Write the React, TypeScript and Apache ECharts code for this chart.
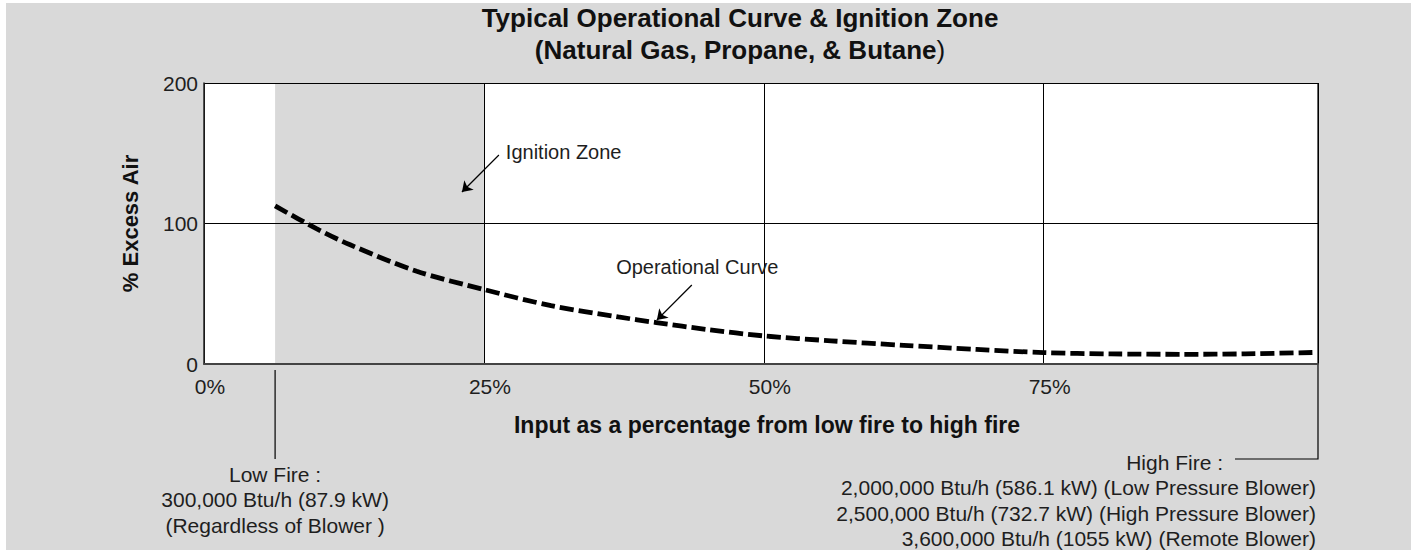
import React, { useEffect, useRef } from "react";
import * as echarts from "echarts";

// ---- data ----
const TITLE_LINE_1 = "Typical Operational Curve & Ignition Zone";
const TITLE_LINE_2_BOLD = "(Natural Gas, Propane, & Butane";
const TITLE_LINE_2_TAIL = ")";
const X_NAME = "Input as a percentage from low fire to high fire";
const Y_NAME = "% Excess Air";

const X_MIN = 0;
const X_MAX = 99.5;
const X_INTERVAL = 25;
const Y_MIN = 0;
const Y_MAX = 200;
const Y_INTERVAL = 100;

const LOW_FIRE = 6.35;
const ZONE_END = 25;

const CURVE_X = [6.35, 10, 13, 19, 25, 31, 37, 40.4, 45, 50, 56, 62.5, 69, 75, 81, 87.5, 93, 99];
const CURVE_Y = [112.5, 96.5, 85, 66, 53, 41.5, 33.5, 29.5, 24.5, 20, 16.5, 13.3, 10.4, 8.1, 7.2, 6.9, 7.2, 8.2];

const IGNITION_TEXT = "Ignition Zone";
const IGNITION_TEXT_AT = [26.96, 150.9];
const IGNITION_ARROW_FROM = [26.34, 148.75];
const IGNITION_ARROW_TO = [23.04, 122.4];

const CURVE_TEXT = "Operational Curve";
const CURVE_TEXT_AT = [44.06, 69];
const CURVE_ARROW_FROM = [43.57, 56.2];
const CURVE_ARROW_TO = [40.45, 31.3];

const LOW_FIRE_LINES = ["Low Fire :", "300,000 Btu/h (87.9 kW)", "(Regardless of Blower )"];
const HIGH_FIRE_LINES = [
  "High Fire :",
  "2,000,000 Btu/h (586.1 kW) (Low Pressure Blower)",
  "2,500,000 Btu/h (732.7 kW) (High Pressure Blower)",
  "3,600,000 Btu/h (1055 kW) (Remote Blower)",
];

// ---- styles ----
const FONT = "'Liberation Sans', Arial, Helvetica, sans-serif";
const BG = "#d9d9d9";
const TEXT = "#1e1e1e";

export default function App() {
  const ref = useRef<HTMLDivElement>(null);

  useEffect(() => {
    if (!ref.current) return;
    const chart = echarts.init(ref.current, undefined, { renderer: "svg" });

    const curveData = CURVE_X.map((x, i) => [x, CURVE_Y[i]]);

    chart.setOption({
      animation: false,
      backgroundColor: BG,
      textStyle: { fontFamily: FONT },
      grid: { left: 198, top: 80, width: 1114, height: 281, containLabel: false },
      xAxis: {
        type: "value",
        min: X_MIN,
        max: X_MAX,
        interval: X_INTERVAL,
        name: X_NAME,
        nameLocation: "middle",
        nameGap: 49,
        nameTextStyle: {
          fontFamily: FONT,
          fontSize: 23,
          fontWeight: "bold",
          color: "#111",
          padding: [0, 0, 0, 12],
        },
        axisLine: { show: true, lineStyle: { color: "#444", width: 2 } },
        axisTick: { show: false },
        splitLine: { show: true, lineStyle: { color: "#000", width: 1 } },
        axisLabel: {
          formatter: "{value}%",
          fontFamily: FONT,
          fontSize: 21,
          color: TEXT,
          margin: 12,
          padding: [0, 0, 0, 12],
          showMaxLabel: false,
        },
      },
      yAxis: {
        type: "value",
        min: Y_MIN,
        max: Y_MAX,
        interval: Y_INTERVAL,
        name: Y_NAME,
        nameLocation: "middle",
        nameRotate: 90,
        nameGap: 63,
        nameTextStyle: {
          fontFamily: FONT,
          fontSize: 22,
          fontWeight: "bold",
          color: "#111",
        },
        axisLine: { show: true, lineStyle: { color: "#222", width: 1.5 } },
        axisTick: { show: false },
        splitLine: { show: true, lineStyle: { color: "#000", width: 1 } },
        axisLabel: { fontFamily: FONT, fontSize: 21, color: TEXT, margin: 6 },
      },
      series: [
        {
          type: "line",
          data: curveData,
          smooth: 0.3,
          symbol: "none",
          silent: true,
          z: 3,
          lineStyle: { color: "#000", width: 4.8, type: [14, 5] },
          markArea: {
            silent: true,
            z: -1,
            label: { show: false },
            data: [
              [
                { coord: [X_MIN, Y_MIN], itemStyle: { color: "#ffffff", opacity: 1, borderWidth: 0 } },
                { coord: [X_MAX, Y_MAX] },
              ],
              [
                { coord: [LOW_FIRE, Y_MIN], itemStyle: { color: BG, opacity: 1, borderWidth: 0 } },
                { coord: [ZONE_END, Y_MAX] },
              ],
            ],
          },
          markLine: {
            silent: true,
            symbol: ["none", "arrow"],
            symbolSize: 10,
            label: { show: false },
            lineStyle: { color: "#000", width: 1.2, type: "solid" },
            data: [
              [{ coord: IGNITION_ARROW_FROM }, { coord: IGNITION_ARROW_TO }],
              [{ coord: CURVE_ARROW_FROM }, { coord: CURVE_ARROW_TO }],
            ],
          },
          markPoint: {
            silent: true,
            symbol: "circle",
            symbolSize: 0,
            data: [
              {
                coord: IGNITION_TEXT_AT,
                label: {
                  show: true,
                  formatter: IGNITION_TEXT,
                  position: "right",
                  distance: 0,
                  fontFamily: FONT,
                  fontSize: 20,
                  color: TEXT,
                },
              },
              {
                coord: CURVE_TEXT_AT,
                label: {
                  show: true,
                  formatter: CURVE_TEXT,
                  position: "inside",
                  fontFamily: FONT,
                  fontSize: 20,
                  color: TEXT,
                },
              },
            ],
          },
        },
      ],
    });

    const [xLow, yBase] = chart.convertToPixel({ gridIndex: 0 }, [LOW_FIRE, Y_MIN]) as number[];
    const [xHigh, yTop] = chart.convertToPixel({ gridIndex: 0 }, [X_MAX, Y_MAX]) as number[];

    const txt = (text: string, x: number, y: number, align: string) => ({
      type: "text",
      x,
      y,
      silent: true,
      style: {
        text,
        fill: TEXT,
        font: `21px ${FONT}`,
        align,
        textAlign: align,
        verticalAlign: "middle",
        textVerticalAlign: "middle",
      },
    });

    const graphics: any[] = [
      {
        type: "text",
        x: 734,
        y: 15,
        silent: true,
        style: {
          text: TITLE_LINE_1,
          fill: "#111",
          font: `bold 26px ${FONT}`,
          align: "center",
          textAlign: "center",
          verticalAlign: "middle",
          textVerticalAlign: "middle",
        },
      },
      {
        type: "text",
        x: 734,
        y: 47,
        silent: true,
        style: {
          text: `{b|${TITLE_LINE_2_BOLD}}{n|${TITLE_LINE_2_TAIL}}`,
          fill: "#111",
          font: `bold 26px ${FONT}`,
          align: "center",
          textAlign: "center",
          verticalAlign: "middle",
          textVerticalAlign: "middle",
          rich: {
            b: { fontFamily: FONT, fontSize: 26, fontWeight: "bold", fill: "#111" },
            n: { fontFamily: FONT, fontSize: 26, fontWeight: "normal", fill: "#111" },
          },
        },
      },
      {
        type: "line",
        silent: true,
        shape: { x1: xLow, y1: yBase + 6, x2: xLow, y2: yBase + 95 },
        style: { stroke: "#000", lineWidth: 1.2 },
      },
      {
        type: "polyline",
        silent: true,
        shape: {
          points: [
            [xHigh, yTop],
            [xHigh, yBase + 95],
            [xHigh - 83, yBase + 95],
          ],
        },
        style: { stroke: "#000", lineWidth: 1.2, fill: "none" },
      },
    ];

    LOW_FIRE_LINES.forEach((t, i) => {
      graphics.push(txt(t, xLow, yBase + 110 + i * 25.5, "center"));
    });
    HIGH_FIRE_LINES.forEach((t, i) => {
      if (i === 0) graphics.push(txt(t, xHigh - 95, yBase + 98, "right"));
      else graphics.push(txt(t, xHigh - 2, yBase + 98 + i * 25.5, "right"));
    });

    chart.setOption({ graphic: graphics });

    return () => {
      chart.dispose();
    };
  }, []);

  return (
    <div
      ref={ref}
      style={{ position: "fixed", left: 6, top: 3, width: 1405, height: 547 }}
    />
  );
}
